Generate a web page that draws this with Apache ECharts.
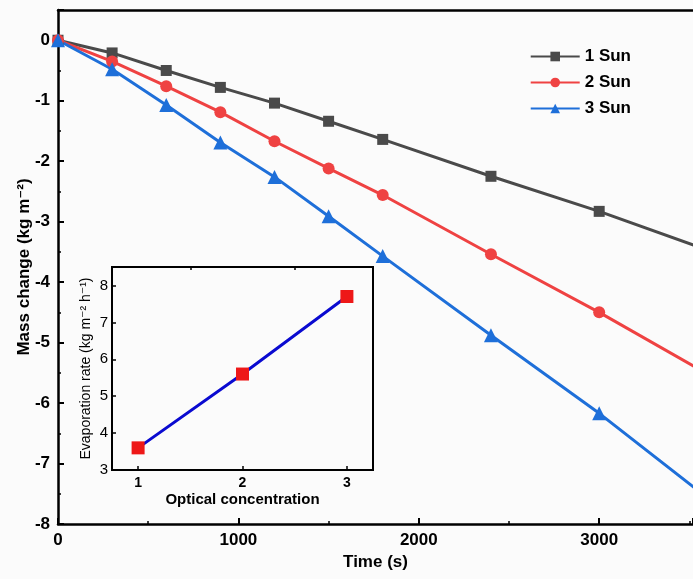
<!DOCTYPE html>
<html>
<head>
<meta charset="utf-8">
<script src="https://cdn.jsdelivr.net/npm/echarts@6/dist/echarts.min.js"></script>
<style>html,body{margin:0;padding:0;background:#fbfbfb}#c{width:693px;height:579px}</style>
</head>
<body>
<div id="c"></div>
<script>
var timeS = [0, 300, 600, 900, 1200, 1500, 1800, 2400, 3000, 3600];
var sun1 = [0, -0.21, -0.50, -0.78, -1.04, -1.34, -1.64, -2.25, -2.83, -3.47];
var sun2 = [0, -0.35, -0.76, -1.19, -1.67, -2.12, -2.56, -3.54, -4.50, -5.52];
var sun3 = [0, -0.48, -1.07, -1.69, -2.26, -2.91, -3.57, -4.88, -6.17, -7.57];
var seriesNames = ['1 Sun', '2 Sun', '3 Sun'];
var opticalConc = [1, 2, 3];
var evapRate = [3.6, 5.6, 7.7];

function pairs(xs, ys){ return xs.map(function(x,i){ return [x, ys[i]]; }); }
function plain(v){ return String(v); }

var FONT = 'Liberation Sans, Arial, DejaVu Sans, sans-serif';
var chart = echarts.init(document.getElementById('c'), null, {renderer:'canvas'});
var boldLbl = {color:'#000', fontFamily:FONT, fontWeight:'bold', fontSize:17, formatter:plain};

chart.setOption({
  backgroundColor:'#fbfbfb',
  animation:false,
  legend:{
    right: 57, top: 43, orient:'vertical', itemWidth:49, itemHeight:12, itemGap:9,
    textStyle:{color:'#000', fontFamily:FONT, fontWeight:'bold', fontSize:17},
    data: seriesNames
  },
  grid:[
    {left:58, top:10, right:0, bottom:55},
    {left:112, top:267, width:261, height:203, show:true, backgroundColor:'#fbfbfb', borderColor:'#000', borderWidth:2, z:5}
  ],
  xAxis:[
    {gridIndex:0, type:'value', min:0, max:3520, interval:1000,
     name:'Time (s)', nameLocation:'middle', nameGap:30, nameMoveOverlap:false,
     nameTextStyle:{color:'#000', fontFamily:FONT, fontWeight:'bold', fontSize:17},
     axisLine:{onZero:false, lineStyle:{color:'#000', width:2.5}},
     axisTick:{inside:true, length:6, lineStyle:{color:'#000', width:2}},
     minorTick:{show:true, splitNumber:2, length:3, lineStyle:{color:'#000', width:1.5}},
     axisLabel:Object.assign({margin:8, showMaxLabel:false}, boldLbl),
     splitLine:{show:false}},
    {gridIndex:0, type:'value', position:'top', min:0, max:3520, interval:1000,
     axisLine:{show:true, onZero:false, lineStyle:{color:'#000', width:2.5}},
     axisTick:{show:false}, axisLabel:{show:false}, splitLine:{show:false}},
    {gridIndex:1, type:'value', min:0.75, max:3.25,
     name:'Optical concentration', nameLocation:'middle', nameGap:22, nameMoveOverlap:false,
     nameTextStyle:{color:'#000', fontFamily:FONT, fontWeight:'bold', fontSize:15},
     axisLine:{show:false, onZero:false},
     axisTick:{inside:true, length:4, customValues:[1,2,3], lineStyle:{color:'#000', width:1.5}},
     axisLabel:{customValues:[1,2,3], color:'#000', fontFamily:FONT, fontWeight:'bold', fontSize:14, margin:6},
     splitLine:{show:false}, z:6},
    {gridIndex:1, type:'value', min:0.75, max:3.25,
     axisLine:{show:false, onZero:false},
     axisTick:{inside:true, length:3, customValues:[1.5,2.5], lineStyle:{color:'#000', width:1.5}},
     axisLabel:{show:false}, splitLine:{show:false}, z:6}
  ],
  yAxis:[
    {gridIndex:0, type:'value', min:-8, max:0.5, interval:1,
     name:'Mass change (kg m⁻²)', nameLocation:'middle', nameGap:25, nameMoveOverlap:false,
     nameTextStyle:{color:'#000', fontFamily:FONT, fontWeight:'bold', fontSize:17},
     axisLine:{onZero:false, lineStyle:{color:'#000', width:2.5}},
     axisTick:{inside:true, length:6, lineStyle:{color:'#000', width:2}},
     minorTick:{show:true, splitNumber:2, length:3, lineStyle:{color:'#000', width:1.5}},
     axisLabel:Object.assign({margin:8, showMaxLabel:false}, boldLbl),
     splitLine:{show:false}},
    {gridIndex:1, type:'value', min:3, max:8.5, interval:1,
     name:'Evaporation rate (kg m⁻² h⁻¹)', nameLocation:'middle', nameGap:19, nameMoveOverlap:false,
     nameTextStyle:{color:'#000', fontFamily:FONT, fontSize:14},
     axisLine:{show:false, onZero:false},
     axisTick:{inside:true, length:4, lineStyle:{color:'#000', width:1.5}},
     axisLabel:{color:'#000', fontFamily:FONT, fontSize:15, margin:4, showMaxLabel:false},
     splitLine:{show:false}, z:6}
  ],
  series:[
    {name:'1 Sun', type:'line', xAxisIndex:0, yAxisIndex:0, data:pairs(timeS, sun1),
     symbol:'rect', symbolSize:11, color:'#4a4a4a', lineStyle:{width:3, color:'#4a4a4a'}, itemStyle:{color:'#4a4a4a'}, clip:true, z:2},
    {name:'2 Sun', type:'line', xAxisIndex:0, yAxisIndex:0, data:pairs(timeS, sun2),
     symbol:'circle', symbolSize:12, color:'#ef4242', lineStyle:{width:3, color:'#ef4242'}, itemStyle:{color:'#ef4242'}, clip:true, z:2},
    {name:'3 Sun', type:'line', xAxisIndex:0, yAxisIndex:0, data:pairs(timeS, sun3),
     symbol:'triangle', symbolSize:14, color:'#1e6fd9', lineStyle:{width:3, color:'#1e6fd9'}, itemStyle:{color:'#1e6fd9'}, clip:true, z:2},
    {name:'inset', type:'line', xAxisIndex:2, yAxisIndex:1, data:pairs(opticalConc, evapRate),
     symbol:'rect', symbolSize:13, lineStyle:{width:3, color:'#0a0ad0'}, itemStyle:{color:'#ee1818'}, z:8}
  ]
});
</script>
</body>
</html>
